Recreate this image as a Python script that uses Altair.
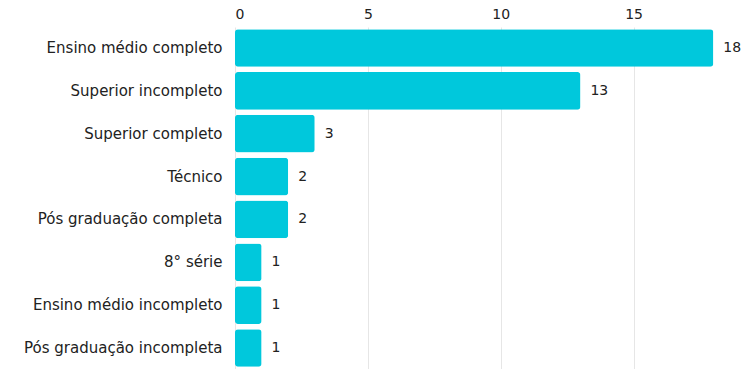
import altair as alt
import pandas as pd

categories = [
    "Ensino médio completo",
    "Superior incompleto",
    "Superior completo",
    "Técnico",
    "Pós graduação completa",
    "8° série",
    "Ensino médio incompleto",
    "Pós graduação incompleta",
]
values = [18, 13, 3, 2, 2, 1, 1, 1]
x_ticks = [0, 5, 10, 15]

df = pd.DataFrame({"cat": categories, "val": values})

FONT = "DejaVu Sans"

base = alt.Chart(df).encode(
    y=alt.Y(
        "cat:N",
        sort=categories,
        title=None,
        scale=alt.Scale(paddingInner=0.12, paddingOuter=0.05),
        axis=alt.Axis(
            domain=False,
            ticks=False,
            grid=False,
            labelPadding=13,
            labelFontSize=15,
            labelFont=FONT,
            labelColor="#222222",
            labelLimit=300,
        ),
    ),
    x=alt.X(
        "val:Q",
        title=None,
        scale=alt.Scale(domain=[0, 19.08], nice=False, zero=True),
        axis=alt.Axis(
            orient="top",
            values=x_ticks,
            domain=False,
            ticks=False,
            labelPadding=6,
            labelFontSize=14,
            labelFont=FONT,
            labelColor="#222222",
            grid=True,
            gridColor="#e6e6e6",
        ),
    ),
)

bars = base.mark_bar(color="#00c8dc", cornerRadius=3)
text = base.mark_text(
    align="left", dx=10, fontSize=14, font=FONT, color="#222222"
).encode(text="val:Q")

chart = (
    (bars + text)
    .properties(
        width=507,
        height=342,
        autosize=alt.AutoSizeParams(type="none"),
        padding={"left": 235, "top": 27, "right": 0, "bottom": 0},
        view=alt.ViewConfig(stroke=None, strokeWidth=0),
    )
    .configure_view(stroke=None, strokeWidth=0)
    .configure_axis(domain=False)
    .configure(background="white")
)

chart.save("out.html", embed_options={"renderer": "svg", "actions": False})
